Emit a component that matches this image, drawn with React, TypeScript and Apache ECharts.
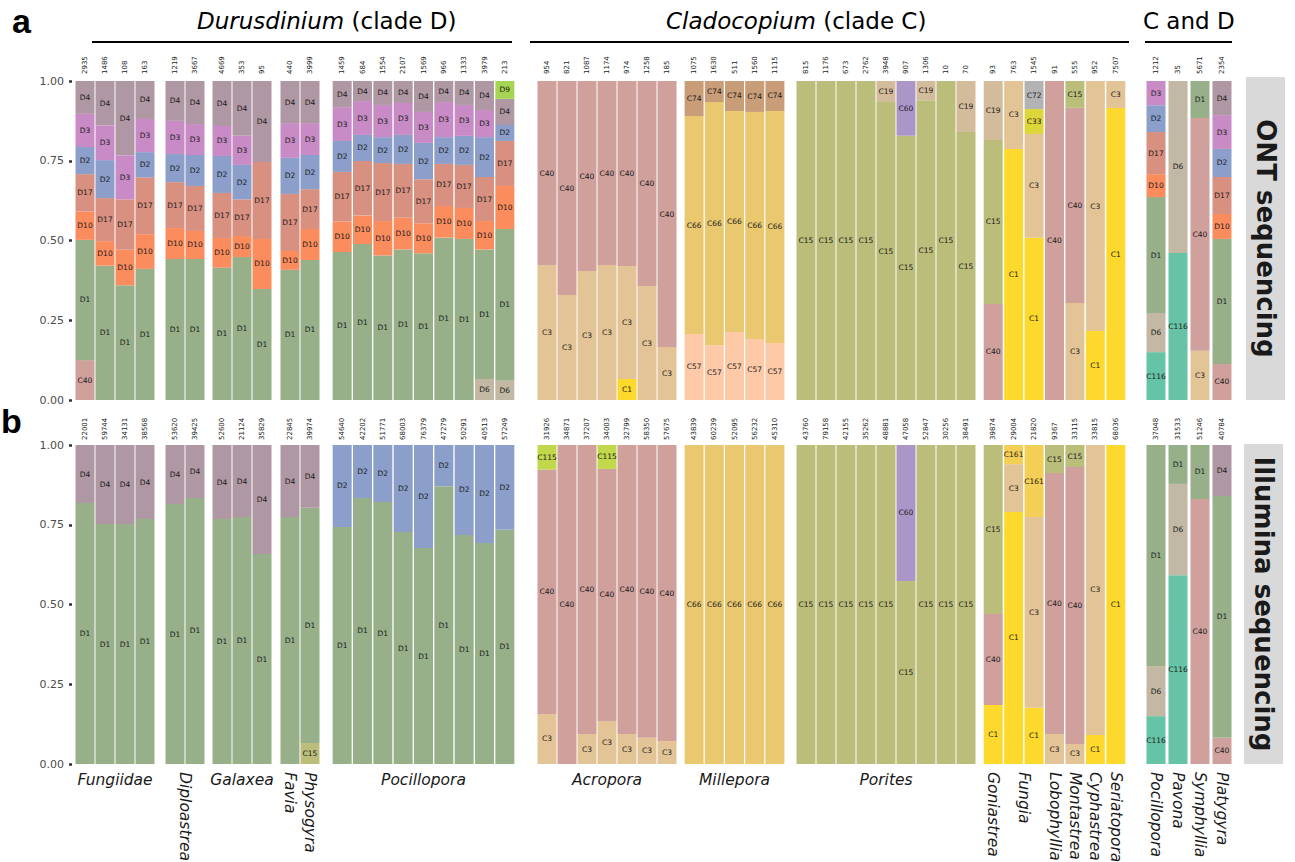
import React, { useEffect, useRef } from "react";
import * as echarts from "echarts";

const FONT = "DejaVu Sans";

// stacking order, bottom -> top
const typeOrder = [
  "C116", "C1", "C3", "C57", "C66", "C74", "C40", "C15", "C19", "C60", "C33", "C72", "C161", "C115",
  "D6", "D1", "D10", "D17", "D2", "D3", "D4", "D9",
];

const typeColors: Record<string, string> = {
  C116: "#66C3A5", C1: "#FDD92E", C3: "#E3C496", C57: "#FDC9A7", C66: "#E9C870", C74: "#C99D78",
  C40: "#CFA09C", C15: "#BBBE7A", C19: "#D3BC9B", C60: "#AB96C7", C33: "#DDD63A", C72: "#B3B3B3",
  C161: "#F4CF55", C115: "#C0D84A", D6: "#C2B8A3", D1: "#97B08A", D10: "#FB8C5E", D17: "#D89080",
  D2: "#8B9FCA", D3: "#C88BC5", D4: "#AF97A3", D9: "#A5D552",
};

type Bar = { n: string; [k: string]: number | string };

// ---------- ONT sequencing ----------
const ontFungiidae: Bar[] = [
  { n: "2935", C40: 0.125, D1: 0.377, D10: 0.089, D17: 0.117, D2: 0.085, D3: 0.104, D4: 0.103 },
  { n: "1486", D1: 0.421, D10: 0.077, D17: 0.135, D2: 0.119, D3: 0.109, D4: 0.139 },
  { n: "108", D1: 0.36, D10: 0.111, D17: 0.158, D3: 0.138, D4: 0.233 },
  { n: "163", D1: 0.411, D10: 0.109, D17: 0.178, D2: 0.079, D3: 0.104, D4: 0.119 },
];
const ontDiploastrea: Bar[] = [
  { n: "1219", D1: 0.442, D10: 0.097, D17: 0.144, D2: 0.088, D3: 0.104, D4: 0.125 },
  { n: "3667", D1: 0.442, D10: 0.088, D17: 0.141, D2: 0.097, D3: 0.097, D4: 0.135 },
];
const ontGalaxea: Bar[] = [
  { n: "4669", D1: 0.415, D10: 0.093, D17: 0.141, D2: 0.116, D3: 0.094, D4: 0.141 },
  { n: "353", D1: 0.448, D10: 0.066, D17: 0.115, D2: 0.108, D3: 0.091, D4: 0.172 },
  { n: "95", D1: 0.348, D10: 0.157, D17: 0.241, D4: 0.254 },
];
const ontFaviaPhysogyra: Bar[] = [
  { n: "440", D1: 0.408, D10: 0.059, D17: 0.179, D2: 0.113, D3: 0.109, D4: 0.132 },
  { n: "3999", D1: 0.439, D10: 0.097, D17: 0.125, D2: 0.107, D3: 0.1, D4: 0.132 },
];
const ontPocillopora: Bar[] = [
  { n: "1459", D1: 0.464, D10: 0.096, D17: 0.155, D2: 0.097, D3: 0.106, D4: 0.082 },
  { n: "684", D1: 0.489, D10: 0.089, D17: 0.171, D2: 0.082, D3: 0.106, D4: 0.063 },
  { n: "1554", D1: 0.453, D10: 0.108, D17: 0.182, D2: 0.081, D3: 0.101, D4: 0.075 },
  { n: "2107", D1: 0.472, D10: 0.099, D17: 0.169, D2: 0.091, D3: 0.1, D4: 0.069 },
  { n: "1569", D1: 0.46, D10: 0.094, D17: 0.138, D2: 0.114, D3: 0.097, D4: 0.097 },
  { n: "966", D1: 0.509, D10: 0.099, D17: 0.132, D2: 0.084, D3: 0.11, D4: 0.066 },
  { n: "1333", D1: 0.505, D10: 0.097, D17: 0.135, D2: 0.091, D3: 0.097, D4: 0.075 },
  { n: "3979", D6: 0.066, D1: 0.406, D10: 0.089, D17: 0.138, D2: 0.125, D3: 0.085, D4: 0.091 },
  { n: "213", D6: 0.06, D1: 0.476, D10: 0.135, D17: 0.141, D2: 0.05, D4: 0.082, D9: 0.056 },
];
const ontAcropora: Bar[] = [
  { n: "954", C3: 0.423, C40: 0.577 },
  { n: "821", C3: 0.329, C40: 0.671 },
  { n: "1087", C3: 0.404, C40: 0.596 },
  { n: "1174", C3: 0.423, C40: 0.577 },
  { n: "974", C1: 0.066, C3: 0.354, C40: 0.58 },
  { n: "1258", C3: 0.357, C40: 0.643 },
  { n: "185", C3: 0.166, C40: 0.834 },
];
const ontMillepora: Bar[] = [
  { n: "1075", C57: 0.207, C66: 0.683, C74: 0.11 },
  { n: "1630", C57: 0.172, C66: 0.762, C74: 0.066 },
  { n: "511", C57: 0.213, C66: 0.693, C74: 0.094 },
  { n: "1560", C57: 0.191, C66: 0.712, C74: 0.097 },
  { n: "1115", C57: 0.179, C66: 0.727, C74: 0.094 },
];
const ontPorites: Bar[] = [
  { n: "815", C15: 1 },
  { n: "1176", C15: 1 },
  { n: "673", C15: 1 },
  { n: "2762", C15: 1 },
  { n: "3948", C15: 0.934, C19: 0.066 },
  { n: "907", C15: 0.828, C60: 0.172 },
  { n: "1306", C15: 0.94, C19: 0.06 },
  { n: "10", C15: 1 },
  { n: "70", C15: 0.84, C19: 0.16 },
];
const ontOthers: Bar[] = [
  { n: "93", C40: 0.301, C15: 0.514, C19: 0.185 },
  { n: "763", C1: 0.787, C3: 0.213 },
  { n: "1545", C1: 0.509, C3: 0.325, C33: 0.078, C72: 0.088 },
  { n: "91", C40: 1 },
  { n: "555", C3: 0.304, C40: 0.612, C15: 0.084 },
  { n: "952", C1: 0.216, C3: 0.784 },
  { n: "7507", C1: 0.915, C3: 0.085 },
];
const ontCandD: Bar[] = [
  { n: "1212", C116: 0.15, D6: 0.123, D1: 0.363, D10: 0.072, D17: 0.132, D2: 0.084, D3: 0.076 },
  { n: "35", C116: 0.461, D6: 0.539 },
  { n: "5671", C3: 0.154, C40: 0.73, D1: 0.116 },
  { n: "2354", C40: 0.113, D1: 0.392, D10: 0.078, D17: 0.116, D2: 0.088, D3: 0.106, D4: 0.107 },
];

// ---------- Illumina sequencing ----------
const ilmFungiidae: Bar[] = [
  { n: "22001", D1: 0.818, D4: 0.182 },
  { n: "59744", D1: 0.752, D4: 0.248 },
  { n: "34131", D1: 0.752, D4: 0.248 },
  { n: "38568", D1: 0.768, D4: 0.232 },
];
const ilmDiploastrea: Bar[] = [
  { n: "53620", D1: 0.815, D4: 0.185 },
  { n: "39425", D1: 0.834, D4: 0.166 },
];
const ilmGalaxea: Bar[] = [
  { n: "52600", D1: 0.768, D4: 0.232 },
  { n: "21124", D1: 0.774, D4: 0.226 },
  { n: "35829", D1: 0.658, D4: 0.342 },
];
const ilmFaviaPhysogyra: Bar[] = [
  { n: "22845", D1: 0.774, D4: 0.226 },
  { n: "39974", C15: 0.066, D1: 0.737, D4: 0.197 },
];
const ilmPocillopora: Bar[] = [
  { n: "54640", D1: 0.743, D2: 0.257 },
  { n: "42202", D1: 0.834, D2: 0.166 },
  { n: "51771", D1: 0.821, D2: 0.179 },
  { n: "68003", D1: 0.727, D2: 0.273 },
  { n: "76379", D1: 0.677, D2: 0.323 },
  { n: "47279", D1: 0.871, D2: 0.129 },
  { n: "50291", D1: 0.718, D2: 0.282 },
  { n: "40513", D1: 0.693, D2: 0.307 },
  { n: "57249", D1: 0.734, D2: 0.266 },
];
const ilmAcropora: Bar[] = [
  { n: "31926", C3: 0.157, C40: 0.766, C115: 0.077 },
  { n: "34871", C40: 1 },
  { n: "37207", C3: 0.094, C40: 0.906 },
  { n: "34003", C3: 0.135, C40: 0.79, C115: 0.075 },
  { n: "32799", C3: 0.094, C40: 0.906 },
  { n: "58350", C3: 0.082, C40: 0.918 },
  { n: "57675", C3: 0.072, C40: 0.928 },
];
const ilmMillepora: Bar[] = [
  { n: "43839", C66: 1 },
  { n: "60239", C66: 1 },
  { n: "52095", C66: 1 },
  { n: "56232", C66: 1 },
  { n: "45310", C66: 1 },
];
const ilmPorites: Bar[] = [
  { n: "43760", C15: 1 },
  { n: "79158", C15: 1 },
  { n: "42155", C15: 1 },
  { n: "35262", C15: 1 },
  { n: "48881", C15: 1 },
  { n: "47058", C15: 0.574, C60: 0.426 },
  { n: "52847", C15: 1 },
  { n: "30256", C15: 1 },
  { n: "38491", C15: 1 },
];
const ilmOthers: Bar[] = [
  { n: "39874", C1: 0.185, C40: 0.285, C15: 0.53 },
  { n: "29004", C1: 0.79, C3: 0.15, C161: 0.06 },
  { n: "21820", C1: 0.176, C3: 0.598, C161: 0.226 },
  { n: "9367", C3: 0.094, C40: 0.818, C15: 0.088 },
  { n: "33115", C3: 0.063, C40: 0.868, C15: 0.069 },
  { n: "33815", C1: 0.091, C3: 0.909 },
  { n: "68036", C1: 1 },
];
const ilmCandD: Bar[] = [
  { n: "37048", C116: 0.15, D6: 0.157, D1: 0.693 },
  { n: "31533", C116: 0.592, D6: 0.286, D1: 0.122 },
  { n: "51246", C40: 0.831, D1: 0.169 },
  { n: "40784", C40: 0.082, D1: 0.758, D4: 0.16 },
];

const ontFacets = [ontFungiidae, ontDiploastrea, ontGalaxea, ontFaviaPhysogyra, ontPocillopora, ontAcropora, ontMillepora, ontPorites, ontOthers, ontCandD];
const ilmFacets = [ilmFungiidae, ilmDiploastrea, ilmGalaxea, ilmFaviaPhysogyra, ilmPocillopora, ilmAcropora, ilmMillepora, ilmPorites, ilmOthers, ilmCandD];

const yTicks = [0, 0.25, 0.5, 0.75, 1];

// genus label: [name, facet index, first bar, last bar, vertical]
const genusLabels: [string, number, number, number, boolean][] = [
  ["Fungiidae", 0, 0, 3, false],
  ["Diploastrea", 1, 0, 1, true],
  ["Galaxea", 2, 0, 2, false],
  ["Favia", 3, 0, 0, true],
  ["Physogyra", 3, 1, 1, true],
  ["Pocillopora", 4, 0, 8, false],
  ["Acropora", 5, 0, 6, false],
  ["Millepora", 6, 0, 4, false],
  ["Porites", 7, 0, 8, false],
  ["Goniastrea", 8, 0, 0, true],
  ["Fungia", 8, 1, 2, true],
  ["Lobophyllia", 8, 3, 3, true],
  ["Montastrea", 8, 4, 4, true],
  ["Cyphastrea", 8, 5, 5, true],
  ["Seriatopora", 8, 6, 6, true],
  ["Pocillopora", 9, 0, 0, true],
  ["Pavona", 9, 1, 1, true],
  ["Symphyllia", 9, 2, 2, true],
  ["Platygyra", 9, 3, 3, true],
];

// ---------- layout ----------
const facetLeft = [75, 165, 212, 280, 332, 537, 684, 796, 983, 1145];
const facetWidth = [80, 40, 60, 40, 183, 140, 101, 180, 143, 88];
const PANEL_TOP = [81, 445];
const PANEL_H = 319;

function buildOption() {
  const grid: any[] = [];
  const xAxis: any[] = [];
  const yAxis: any[] = [];
  const series: any[] = [];
  [ontFacets, ilmFacets].forEach((facets, pi) => {
    facets.forEach((bars, fi) => {
      const gi = grid.length;
      grid.push({ left: facetLeft[fi], width: facetWidth[fi], top: PANEL_TOP[pi], height: PANEL_H, containLabel: false });
      xAxis.push({
        type: "category",
        gridIndex: gi,
        position: "top",
        data: bars.map((b) => b.n),
        axisLine: { show: false },
        axisTick: { show: false },
        axisLabel: { rotate: 90, interval: 0, fontSize: 7, fontFamily: FONT, color: "#222", margin: pi === 0 ? 7 : 5 },
      });
      yAxis.push({
        type: "value",
        gridIndex: gi,
        min: yTicks[0],
        max: yTicks[yTicks.length - 1],
        interval: 0.25,
        show: fi === 0,
        offset: 3,
        splitLine: { show: false },
        axisLine: { show: false },
        axisTick: { show: true, length: 3, lineStyle: { color: "#333", width: 2.5 } },
        axisLabel: { formatter: (v: number) => v.toFixed(2), fontSize: 11, fontFamily: FONT, color: "#4d4d4d", margin: 8 },
      });
      typeOrder.forEach((t) => {
        if (!bars.some((b) => typeof b[t] === "number")) return;
        series.push({
          type: "bar",
          name: t,
          xAxisIndex: gi,
          yAxisIndex: gi,
          stack: "s" + gi,
          barWidth: 19,
          silent: true,
          data: bars.map((b) => (typeof b[t] === "number" ? b[t] : null)),
          itemStyle: { color: typeColors[t] },
          label: { show: true, position: "inside", formatter: t, fontSize: 7.5, fontFamily: FONT, color: "#1a1a1a" },
        });
      });
    });
  });

  const elements: any[] = [];
  // panel letters
  elements.push({ type: "text", x: 12, y: 21, style: { text: "a", font: "bold 34px 'Liberation Sans'", fill: "#000", textVerticalAlign: "middle" } });
  elements.push({ type: "text", x: 1, y: 421, style: { text: "b", font: "bold 34px 'Liberation Sans'", fill: "#000", textVerticalAlign: "middle" } });
  // headers
  const headers: [string, number, number, number][] = [
    ["{i|Durusdinium} (clade D)", 197, 92, 512],
    ["{i|Cladocopium} (clade C)", 666, 530, 1129],
    ["C and D", 1143, 1145, 1232],
  ];
  headers.forEach(([txt, tx, l0, l1]) => {
    elements.push({
      type: "text",
      x: tx,
      y: 21,
      style: {
        text: txt,
        fontSize: 23,
        fontFamily: FONT,
        fill: "#000",
        textVerticalAlign: "middle",
        rich: { i: { fontStyle: "italic", fontSize: 23, fontFamily: FONT, fill: "#000" } },
      },
    });
    elements.push({ type: "line", shape: { x1: l0, y1: 42, x2: l1, y2: 42 }, style: { stroke: "#000", lineWidth: 2 } });
  });
  // strips
  const strips: [string, number, number, number][] = [
    ["ONT sequencing", 1246, 77, 323],
    ["Illumina sequencing", 1244, 444, 320],
  ];
  strips.forEach(([txt, x, y, h]) => {
    elements.push({ type: "rect", shape: { x, y, width: 39, height: h }, style: { fill: "#D9D9D9" } });
    elements.push({
      type: "text",
      x: x + 19.5,
      y: y + h / 2,
      rotation: -Math.PI / 2,
      style: { text: txt, font: `bold 26px '${FONT}'`, fill: "#1a1a1a", textAlign: "center", textVerticalAlign: "middle" },
    });
  });
  // genus labels
  genusLabels.forEach(([name, fi, b0, b1, vertical]) => {
    const n = ilmFacets[fi].length;
    const cx = facetLeft[fi] + ((b0 + b1 + 1) / 2) * (facetWidth[fi] / n);
    if (vertical) {
      elements.push({
        type: "text",
        x: cx,
        y: 772,
        rotation: -Math.PI / 2,
        style: { text: name, font: `italic 15.5px '${FONT}'`, fill: "#1a1a1a", textAlign: "left", textVerticalAlign: "middle" },
      });
    } else {
      elements.push({
        type: "text",
        x: cx,
        y: 780,
        style: { text: name, font: `italic 15.5px '${FONT}'`, fill: "#1a1a1a", textAlign: "center", textVerticalAlign: "middle" },
      });
    }
  });

  return {
    animation: false,
    backgroundColor: "#fff",
    grid,
    xAxis,
    yAxis,
    series,
    graphic: { elements },
  };
}

export default function App() {
  const ref = useRef<HTMLDivElement>(null);
  useEffect(() => {
    if (!ref.current) return;
    const chart = echarts.init(ref.current, undefined, { renderer: "svg" });
    chart.setOption(buildOption() as any);
    return () => chart.dispose();
  }, []);
  return <div ref={ref} style={{ position: "absolute", left: 0, top: 0, width: 1295, height: 862 }} />;
}
